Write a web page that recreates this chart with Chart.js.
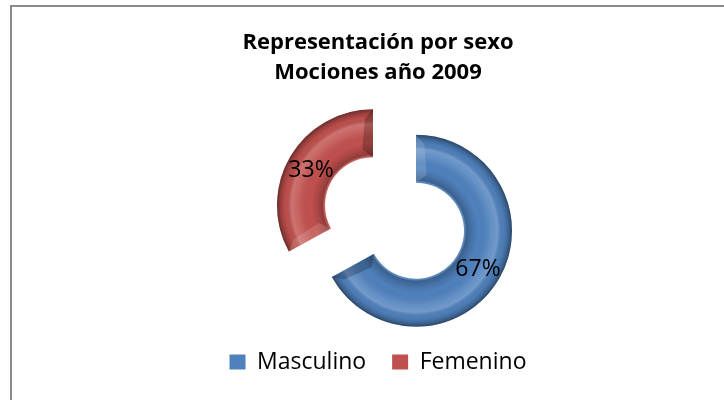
<!DOCTYPE html>
<html>
<head>
<meta charset="utf-8">
<script src="https://cdn.jsdelivr.net/npm/chart.js@4/dist/chart.umd.min.js"></script>
<style>
  html, body { margin: 0; padding: 0; background: #fff; overflow: hidden; }
  #frame {
    position: absolute; left: 10px; top: 5px; width: 800px; height: 420px;
    border-top: 2px solid #8a8a8a; border-left: 2px solid #8a8a8a;
  }
  #chart { position: absolute; left: 0; top: 0; }
</style>
</head>
<body>
<div id="frame"><canvas id="chart" width="732" height="393"></canvas></div>
<script>
// datos del grafico
var categories = ['Masculino', 'Femenino'];
var values = [67, 33];
var colors = ['#4F81BD', '#C0504D'];
var titleLines = ['Representación por sexo', 'Mociones año 2009'];

var EXPLODE = 25;   // separacion de cada porcion
var BEVEL = 9;

function ringPath(ctx, p) {
    ctx.beginPath();
    ctx.arc(p.x, p.y, p.outerRadius, p.startAngle, p.endAngle);
    ctx.arc(p.x, p.y, p.innerRadius, p.endAngle, p.startAngle, true);
    ctx.closePath();
}

function polar(p, r, a) {
    return [p.x + Math.cos(a) * r, p.y + Math.sin(a) * r];
}

function endBevel(ctx, p, a, dir, fill) {
    var ro = p.outerRadius, ri = p.innerRadius;
    var pts = [
        polar(p, ri, a), polar(p, ro, a),
        polar(p, ro - BEVEL, a + dir * BEVEL / ro),
        polar(p, ri + BEVEL, a + dir * BEVEL / ri)
    ];
    ctx.beginPath();
    ctx.moveTo(pts[0][0], pts[0][1]);
    for (var k = 1; k < pts.length; k++) ctx.lineTo(pts[k][0], pts[k][1]);
    ctx.closePath();
    ctx.fillStyle = fill;
    ctx.fill();
}

// dibuja las porciones separadas con un efecto de bisel
var bevelPlugin = {
    id: 'bevel',
    beforeDatasetDraw: function (chart, args) {
        var ctx = chart.ctx;
        args.meta.data.forEach(function (arc) {
            var p = arc.getProps(['x', 'y', 'startAngle', 'endAngle', 'innerRadius', 'outerRadius'], true);
            var mid = (p.startAngle + p.endAngle) / 2;
            ctx.save();
            ctx.translate(Math.cos(mid) * EXPLODE, Math.sin(mid) * EXPLODE);
            arc.draw(ctx);

            ctx.save();
            ringPath(ctx, p);
            ctx.clip();
            var g = ctx.createRadialGradient(p.x, p.y, p.innerRadius, p.x, p.y, p.outerRadius);
            g.addColorStop(0.00, 'rgba(255,255,255,0.10)');
            g.addColorStop(0.05, 'rgba(0,0,0,0.26)');
            g.addColorStop(0.18, 'rgba(0,0,0,0.10)');
            g.addColorStop(0.30, 'rgba(0,0,0,0)');
            g.addColorStop(0.55, 'rgba(255,255,255,0.10)');
            g.addColorStop(0.70, 'rgba(255,255,255,0.20)');
            g.addColorStop(0.82, 'rgba(0,0,0,0.02)');
            g.addColorStop(0.92, 'rgba(0,0,0,0.20)');
            g.addColorStop(1.00, 'rgba(0,0,0,0.45)');
            ctx.fillStyle = g;
            ctx.fillRect(p.x - p.outerRadius, p.y - p.outerRadius, p.outerRadius * 2, p.outerRadius * 2);
            endBevel(ctx, p, p.startAngle, 1, 'rgba(255,255,255,0.14)');
            endBevel(ctx, p, p.endAngle, -1, 'rgba(0,0,0,0.22)');
            ctx.restore();

            ctx.restore();
        });
        return false;
    },
    afterDatasetsDraw: function (chart) {
        var ctx = chart.ctx;
        var meta = chart.getDatasetMeta(0);
        var data = chart.data.datasets[0].data;
        var total = data.reduce(function (a, b) { return a + b; }, 0);
        ctx.save();
        ctx.font = '23px "Open Sans"';
        ctx.fillStyle = '#000';
        ctx.textAlign = 'center';
        ctx.textBaseline = 'middle';
        meta.data.forEach(function (arc, i) {
            var p = arc.getProps(['startAngle', 'endAngle'], true);
            var mid = (p.startAngle + p.endAngle) / 2;
            var pos = arc.tooltipPosition(true);
            var txt = Math.round(data[i] / total * 100) + '%';
            ctx.fillText(txt, pos.x + Math.cos(mid) * EXPLODE, pos.y + Math.sin(mid) * EXPLODE + 2);
        });
        ctx.restore();
    }
};

Chart.defaults.font.family = '"Open Sans"';

new Chart(document.getElementById('chart'), {
    type: 'doughnut',
    data: {
        labels: categories,
        datasets: [{
            data: values,
            backgroundColor: colors,
            borderWidth: 0,
            radius: 96,
            cutout: '50%'
        }]
    },
    options: {
        responsive: false,
        animation: false,
        events: [],
        layout: { padding: { bottom: 16.5 } },
        plugins: {
            title: {
                display: true,
                text: titleLines,
                color: '#000',
                font: { size: 22, weight: 'bold', lineHeight: '30px' },
                padding: { top: 21.2, bottom: 23.3 }
            },
            // espacio a la izquierda para centrar el anillo como en Excel
            subtitle: {
                display: true,
                position: 'left',
                text: '',
                font: { size: 1, lineHeight: 1 },
                padding: { top: 16, bottom: 16 }
            },
            legend: {
                position: 'bottom',
                labels: {
                    color: '#000',
                    font: { size: 23 },
                    boxWidth: 16,
                    boxHeight: 15,
                    padding: 26
                }
            },
            tooltip: { enabled: false }
        }
    },
    plugins: [bevelPlugin]
});
</script>
</body>
</html>
